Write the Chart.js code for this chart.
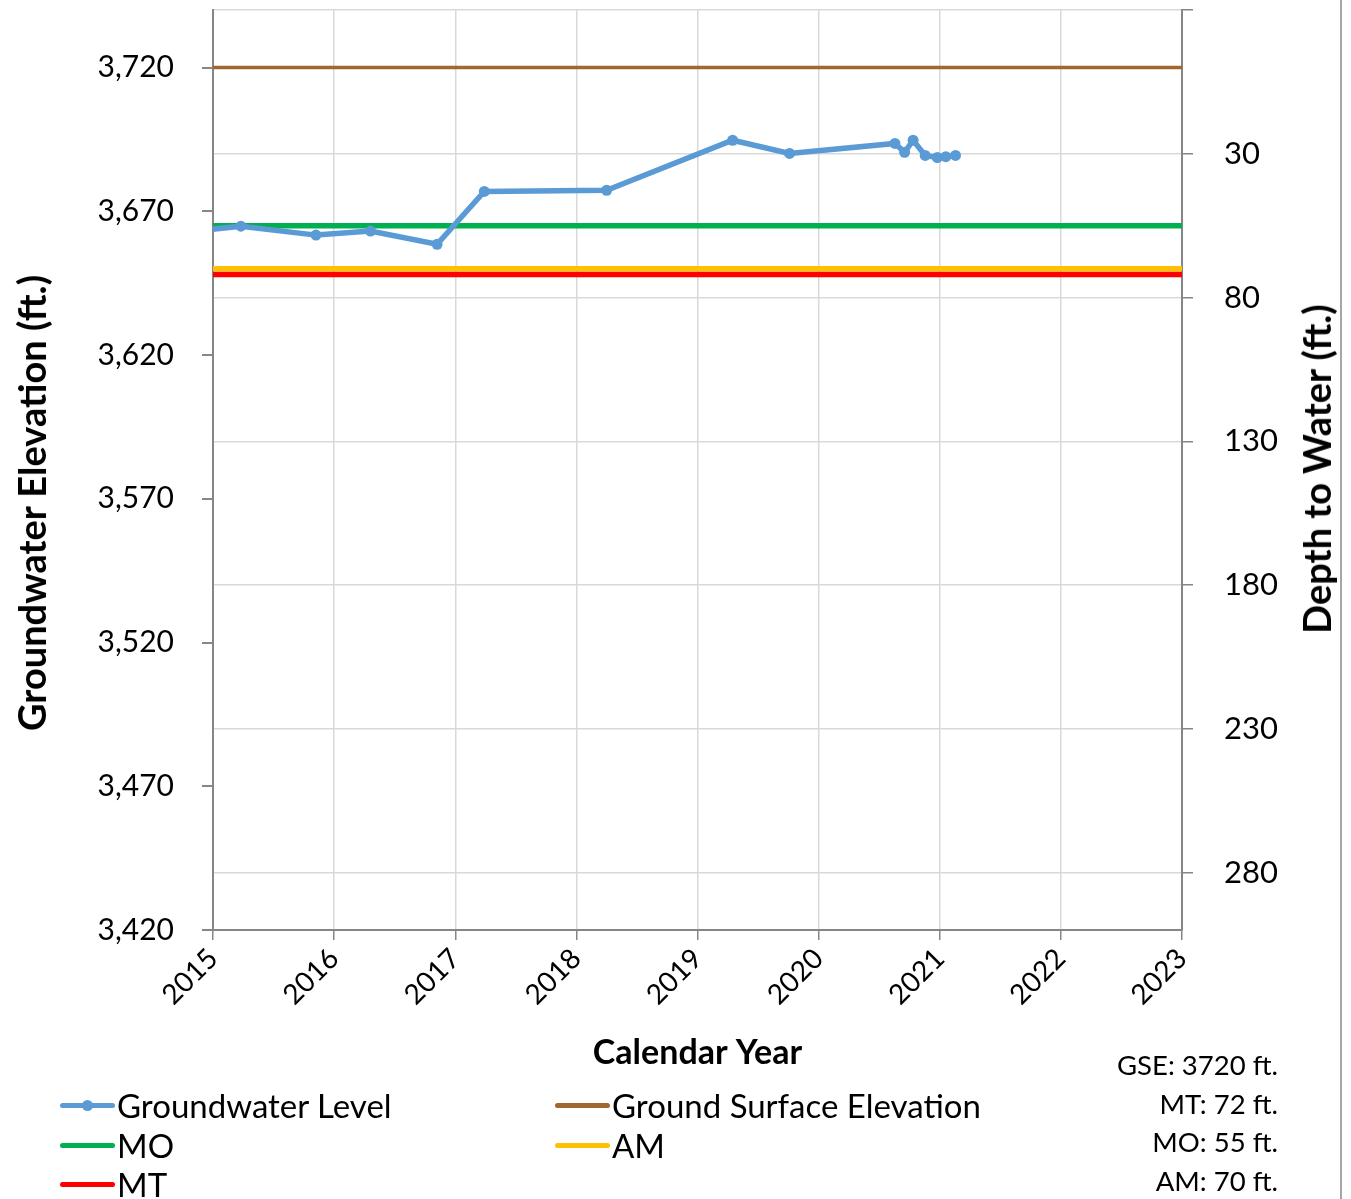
<!DOCTYPE html>
<html><head><meta charset="utf-8">
<script src="https://cdn.jsdelivr.net/npm/chart.js@4.4.1/dist/chart.umd.min.js"></script>
<style>
html,body{margin:0;padding:0;background:#fff;}
#wrap{position:relative;width:1351px;height:1199px;overflow:hidden;font-family:Lato,'Open Sans',sans-serif;color:#000;}
#c{position:absolute;left:0;top:0;}
.vt{position:absolute;font-weight:bold;font-size:38px;white-space:nowrap;transform:translate(-50%,-50%) rotate(-90deg);}
.leg{position:absolute;font-size:33px;white-space:nowrap;height:40px;line-height:40px;}
.leg .ln{position:absolute;left:0;top:18px;width:55px;height:5px;border-radius:3px;}
.leg .dot{position:absolute;left:22px;top:15px;width:11px;height:11px;border-radius:50%;}
.leg .tx{position:absolute;left:57px;top:0;}
.note{position:absolute;right:73px;font-size:27.5px;white-space:nowrap;text-align:right;line-height:38.5px;}
#rb{position:absolute;left:1340px;top:0;width:2px;height:1199px;background:#A6A6A6;}
</style></head>
<body>
<div id="wrap">
<canvas id="c" width="1351" height="1199"></canvas>
<div class="vt" style="left:31px;top:503px;">Groundwater Elevation (ft.)</div>
<div class="vt" style="left:1316px;top:469px;">Depth to Water (ft.)</div>
<div id="legend"></div>
<div class="note" id="notes" style="top:1046px;"></div>
<div id="rb"></div>
</div>
<script>
// ---- data ----
const years = [2014.80, 2015.23, 2015.85, 2016.30, 2016.85, 2017.24, 2018.25, 2019.29, 2019.76, 2020.63, 2020.71, 2020.78, 2020.88, 2020.98, 2021.05, 2021.13];
const elevation = [3662.9, 3664.8, 3661.7, 3663.1, 3658.5, 3676.9, 3677.3, 3694.7, 3690.1, 3693.6, 3690.5, 3694.7, 3689.4, 3688.7, 3689.0, 3689.4];
const gse = 3720;      // ground surface elevation (ft)
const mtDepth = 72;    // minimum threshold depth (ft)
const moDepth = 55;    // measurable objective depth (ft)
const amDepth = 70;    // action minimum depth (ft)
const xRange = [2015, 2023];
const leftTicks = [3420, 3470, 3520, 3570, 3620, 3670, 3720];
const rightTicks = [-20, 30, 80, 130, 180, 230, 280];
const legendLabels = ['Groundwater Level', 'Ground Surface Elevation', 'MO', 'AM', 'MT'];
const noteLines = ['GSE: ' + gse + ' ft.', 'MT: ' + mtDepth + ' ft.', 'MO: ' + moDepth + ' ft.', 'AM: ' + amDepth + ' ft.'];

const colors = {gw:'#5B9BD5', gse:'#A0672F', mo:'#00B050', am:'#FFC000', mt:'#FF0000'};
const FONT = 'Lato, "Open Sans", sans-serif';

function flat(y){ return [{x:xRange[0], y:y},{x:xRange[1], y:y}]; }

const gwPts = years.map((x,i)=>({x:x, y:elevation[i]}));

const datasets = [
  {label:legendLabels[0], data:gwPts, borderColor:colors.gw, backgroundColor:colors.gw, borderWidth:5.5,
   pointRadius: years.map(x => x < xRange[0] ? 0 : 5.5), pointBackgroundColor:colors.gw, pointBorderWidth:0, clip:0, tension:0},
  {label:legendLabels[1], data:flat(gse), borderColor:colors.gse, borderWidth:3.5, pointRadius:0},
  {label:legendLabels[2], data:flat(gse - moDepth), borderColor:colors.mo, borderWidth:5.5, pointRadius:0},
  {label:legendLabels[4], data:flat(gse - mtDepth), borderColor:colors.mt, borderWidth:5.5, pointRadius:0},
  {label:legendLabels[3], data:flat(gse - amDepth), borderColor:colors.am, borderWidth:5.5, pointRadius:0}
];

function noVPad(s){ s.paddingTop = 0; s.paddingBottom = 0; }

new Chart(document.getElementById('c'), {
  type:'line',
  data:{datasets:datasets},
  options:{
    responsive:false, animation:false, devicePixelRatio:1,
    layout:{padding:{top:10, left:0, right:0, bottom:0}},
    plugins:{legend:{display:false}, tooltip:{enabled:false}},
    scales:{
      x:{type:'linear', position:'bottom', min:xRange[0], max:xRange[1],
        ticks:{stepSize:1, autoSkip:false, maxRotation:45, minRotation:45, padding:2,
          color:'#000', font:{family:FONT, size:28}, callback:v=>String(v)},
        grid:{color:'#D9D9D9', lineWidth:1.5, tickColor:'#868686', tickLength:10},
        border:{color:'#868686', width:2},
        title:{display:true, text:'Calendar Year', color:'#000', font:{family:FONT, size:34, weight:'bold'}, padding:{top:0,bottom:126}},
        afterFit:s=>{s.height = 269; s.paddingLeft = 0; s.paddingRight = 0;}
      },
      y:{type:'linear', position:'left', min:3420, max:3740,
        afterBuildTicks:s=>{s.ticks = leftTicks.map(v=>({value:v}));},
        ticks:{color:'#000', font:{family:FONT, size:30}, padding:28,
          callback:v=>v.toLocaleString('en-US')},
        grid:{drawOnChartArea:false, tickColor:'#868686', tickLength:11, lineWidth:2},
        border:{color:'#868686', width:2},
        afterFit:s=>{s.width = 213; noVPad(s);}
      },
      y2:{type:'linear', position:'right', min:-20, max:300, reverse:true,
        afterBuildTicks:s=>{s.ticks = rightTicks.map(v=>({value:v}));},
        ticks:{color:'#000', font:{family:FONT, size:31}, padding:31,
          callback:v=> v < 0 ? '' : String(v)},
        grid:{color:'#D9D9D9', lineWidth:1.5, tickColor:'#868686', tickLength:11},
        border:{color:'#868686', width:2},
        afterFit:s=>{s.width = 169; noVPad(s);}
      }
    }
  }
});

// ---- HTML legend ----
const legColors = [colors.gw, colors.gse, colors.mo, colors.am, colors.mt];
const legPos = [[60,1085],[555,1085],[60,1125],[555,1125],[60,1164]];
const legEl = document.getElementById('legend');
legendLabels.forEach((lab,i)=>{
  const d = document.createElement('div');
  d.className='leg';
  d.style.left = legPos[i][0]+'px';
  d.style.top = legPos[i][1]+'px';
  let h = '<div class="ln" style="background:'+legColors[i]+'"></div>';
  if(i===0) h += '<div class="dot" style="background:'+legColors[i]+'"></div>';
  h += '<div class="tx">'+lab+'</div>';
  d.innerHTML = h;
  legEl.appendChild(d);
});
document.getElementById('notes').innerHTML = noteLines.join('<br>');
</script>
</body></html>
